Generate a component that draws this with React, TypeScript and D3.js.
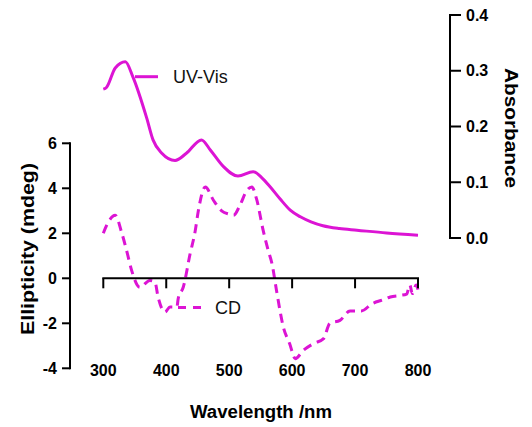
import React from "react";
import * as d3 from "d3";

const uvWl = [300, 305, 319, 335, 347, 369, 379, 393, 414, 432, 456, 470, 491, 514, 538, 552, 565, 581, 597, 613, 630, 649, 675, 703, 750, 800];
const uvAbs = [0.267, 0.27, 0.305, 0.316, 0.289, 0.215, 0.176, 0.152, 0.139, 0.152, 0.176, 0.158, 0.128, 0.111, 0.119, 0.108, 0.092, 0.07, 0.05, 0.038, 0.029, 0.022, 0.017, 0.014, 0.009, 0.005];

const cdWl = [300, 307, 319, 329, 337, 345, 358, 374, 382, 387, 398, 406, 417, 419, 427, 438, 446, 451, 462, 475, 488, 500, 507, 517, 528, 536, 544, 554, 562, 568, 576, 586, 596, 605, 618, 634, 650, 660, 676, 692, 710, 727, 745, 756, 772, 782, 787, 791, 797, 800];
const cdVal = [2.0, 2.45, 2.8, 2.05, 1.24, 0.35, -0.4, -0.1, -0.16, -0.83, -1.5, -1.27, -1.27, -0.9, -0.4, 1.1, 2.1, 3.0, 4.06, 3.47, 3.0, 2.85, 2.8, 3.24, 3.9, 4.06, 3.47, 2.13, 1.24, 0.65, -0.68, -2.16, -2.9, -3.57, -3.2, -2.9, -2.68, -2.0, -1.87, -1.45, -1.45, -1.13, -0.95, -0.83, -0.76, -0.7, -0.3, -0.68, -0.3, -0.5];

const xTicks = [300, 400, 500, 600, 700, 800];
const yLTicks = [-4, -2, 0, 2, 4, 6];
const yRTicks = [0.0, 0.1, 0.2, 0.3, 0.4];

const MAG = "#dc14d4";
const FONT = "'Liberation Sans', Arial, sans-serif";

export default function App() {
  const x = d3.scaleLinear().domain([300, 800]).range([103.3, 418]);
  const yL = d3.scaleLinear().domain([-4, 6]).range([368.3, 143.3]);
  const yR = d3.scaleLinear().domain([0, 0.4]).range([238, 15]);

  const uvLine = d3
    .line<number>()
    .x((_, i) => x(uvWl[i]))
    .y((d) => yR(d))
    .curve(d3.curveMonotoneX)(uvAbs) as string;
  const cdLine = d3
    .line<number>()
    .x((_, i) => x(cdWl[i]))
    .y((d) => yL(d))
    .curve(d3.curveMonotoneX)(cdVal) as string;

  const y0 = yL(0);
  const axisW = 2;

  return (
    <svg
      width={532}
      height={427}
      style={{ position: "absolute", left: 0, top: 0, background: "#fff" }}
      fontFamily={FONT}
    >
      {/* data */}
      <path d={uvLine} fill="none" stroke={MAG} strokeWidth={3} />
      <path d={cdLine} fill="none" stroke={MAG} strokeWidth={3} strokeDasharray="9,6" />

      {/* legends */}
      <line x1={135} x2={158} y1={76.7} y2={76.7} stroke={MAG} strokeWidth={3} />
      <text x={173} y={78} dominantBaseline="middle" fontSize={18} fill="#111">UV-Vis</text>
      <line x1={178} x2={201} y1={307.5} y2={307.5} stroke={MAG} strokeWidth={3} strokeDasharray="8,7" />
      <text x={215} y={309} dominantBaseline="middle" fontSize={18} fill="#111">CD</text>

      {/* left axis */}
      <line x1={70} x2={70} y1={yL(6) - 1} y2={yL(-4) + 1} stroke="#000" strokeWidth={axisW} />
      {yLTicks.map((t) => (
        <g key={"l" + t}>
          <line x1={62} x2={70} y1={yL(t)} y2={yL(t)} stroke="#000" strokeWidth={axisW} />
          <text x={57} y={yL(t)} dy="0.35em" textAnchor="end" fontSize={16} fontWeight="bold">
            {t}
          </text>
        </g>
      ))}
      <text
        transform={`translate(34,249) rotate(-90)`}
        textAnchor="middle"
        fontSize={18}
        fontWeight="bold"
        textLength={172}
        lengthAdjust="spacingAndGlyphs"
      >
        Ellipticity (mdeg)
      </text>

      {/* x axis */}
      <line x1={x(300) - 1} x2={x(800) + 1} y1={y0} y2={y0} stroke="#000" strokeWidth={axisW} />
      {xTicks.map((t) => (
        <g key={"x" + t}>
          <line x1={x(t)} x2={x(t)} y1={y0} y2={y0 + 10} stroke="#000" strokeWidth={axisW} />
          <text x={x(t)} y={370} dy="0.35em" textAnchor="middle" fontSize={16} fontWeight="bold">
            {t}
          </text>
        </g>
      ))}
      <text x={261} y={418} textAnchor="middle" fontSize={18} fontWeight="bold" textLength={142} lengthAdjust="spacingAndGlyphs">
        Wavelength /nm
      </text>

      {/* right axis */}
      <line x1={450} x2={450} y1={yR(0.4) - 1} y2={yR(0) + 1} stroke="#000" strokeWidth={axisW} />
      {yRTicks.map((t) => (
        <g key={"r" + t}>
          <line x1={450} x2={461} y1={yR(t)} y2={yR(t)} stroke="#000" strokeWidth={axisW} />
          <text x={466} y={yR(t)} dy="0.35em" textAnchor="start" fontSize={16} fontWeight="bold">
            {t.toFixed(1)}
          </text>
        </g>
      ))}
      <text
        transform={`translate(505,128) rotate(90)`}
        textAnchor="middle"
        fontSize={18}
        fontWeight="bold"
        textLength={120}
        lengthAdjust="spacingAndGlyphs"
      >
        Absorbance
      </text>
    </svg>
  );
}
